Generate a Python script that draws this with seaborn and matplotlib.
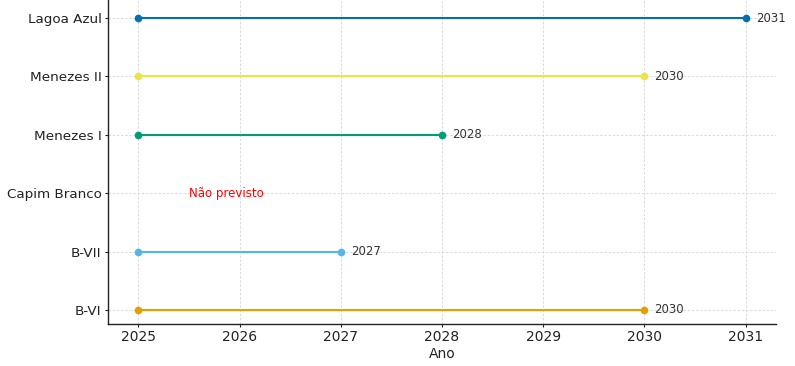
import matplotlib
matplotlib.use("Agg")
import matplotlib.pyplot as plt
import seaborn as sns
import pandas as pd
import numpy as np

projetos = ["B-VI", "B-VII", "Capim Branco", "Menezes I", "Menezes II", "Lagoa Azul"]
inicio = [2025, 2025, None, 2025, 2025, 2025]
fim = [2030, 2027, None, 2028, 2030, 2031]
cores = ["#E69F00", "#56B4E9", "#999999", "#009E73", "#F0E442", "#0072B2"]
anos_ticks = [2025, 2026, 2027, 2028, 2029, 2030, 2031]

rows = []
for i, (p, s, e) in enumerate(zip(projetos, inicio, fim)):
    if s is None:
        continue
    rows.append({"projeto": p, "pos": i, "ano": s})
    rows.append({"projeto": p, "pos": i, "ano": e})
df = pd.DataFrame(rows)

sns.set_style("whitegrid")
plt.rcParams["font.family"] = ["DejaVu Sans"]

fig = plt.figure(figsize=(7.95, 3.66), dpi=100)
ax = fig.add_axes([108/795, 42/366, (776-108)/795, 324/366])

palette = {p: c for p, c in zip(projetos, cores)}
sns.lineplot(data=df, x="ano", y="pos", hue="projeto", units="projeto",
             estimator=None, sort=False, marker="o", markersize=5.5,
             markeredgewidth=0, linewidth=1.5, palette=palette, legend=False, ax=ax)

for i, (p, e) in enumerate(zip(projetos, fim)):
    if e is None:
        ax.text(2025.5, i, "Não previsto", color="red", fontsize=8.5, va="center", ha="left")
    else:
        ax.text(e + 0.1, i, str(e), color="#333333", fontsize=8.5, va="center", ha="left")

ax.set_xlim(2024.7, 2031.3)
ax.set_ylim(-0.24, 5.31)
ax.set_yticks(range(len(projetos)))
ax.set_yticklabels(projetos)
ax.set_xticks(anos_ticks)
ax.set_xticklabels([str(a) for a in anos_ticks])
ax.set_xlabel("Ano", fontsize=10, color="#222222", labelpad=2)
ax.set_ylabel("")
ax.tick_params(axis="both", labelsize=10, colors="#222222", length=2.5, width=0.8,
               pad=2, left=True, bottom=True)
ax.tick_params(axis="y", labelsize=9.7)
ax.grid(True, linestyle=(0, (3, 2)), color="#d5d5d5", linewidth=0.6)
for s in ["top", "right"]:
    ax.spines[s].set_visible(False)
for s in ["left", "bottom"]:
    ax.spines[s].set_color("#222222")
    ax.spines[s].set_linewidth(1.0)
ax.set_facecolor("white")

fig.savefig("out.png", dpi=100)
